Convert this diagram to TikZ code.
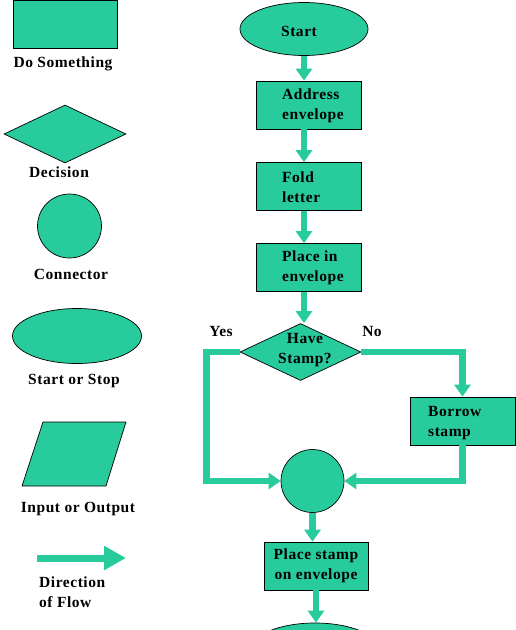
\documentclass[tikz,border=0pt]{standalone}
\usepackage{fontspec}
\setmainfont[LetterSpace=3.5]{Liberation Serif}
\usetikzlibrary{shapes.geometric,arrows.meta}
\definecolor{flowgreen}{RGB}{40,204,156}

\begin{document}
\begin{tikzpicture}[x=1pt,y=-1pt,
    every node/.style={font=\bfseries\fontsize{15.5}{20}\selectfont, inner sep=0pt},
    shp/.style={draw, fill=flowgreen, line width=0.7pt},
    box/.style={shp, rectangle, minimum width=105pt, minimum height=48pt},
    flow/.style={draw=flowgreen, line width=6.5pt, -{Triangle[width=16pt,length=12pt]}},
    txt/.style={align=left, anchor=west}]
    \useasboundingbox (0,0) rectangle (516,630);
    \clip (0,0) rectangle (516,630);
    % legend on the left
    \node[box, minimum width=104pt] (kbox) at (65,24) {};
    \node (kboxlbl) at (63,64) {Do Something};
    \node[shp, diamond, minimum width=122pt, minimum height=58pt] (kdec) at (65,134) {};
    \node (kdeclbl) at (59,172) {Decision};
    \node[shp, circle, minimum size=64pt] (kconn) at (69.5,226) {};
    \node (kconnlbl) at (71,274) {Connector};
    \node[shp, ellipse, minimum width=129pt, minimum height=55pt] (kterm) at (77,336) {};
    \node (ktermlbl) at (74,381) {Start or Stop};
    \draw[shp] (43,422) -- (126,422) -- (106,486) -- (22,486) -- cycle;
    \node (kiolbl) at (78,509) {Input or Output};
    \coordinate (karrow) at (37,558);
    \coordinate (karrowend) at (126,558);
    \draw[draw=flowgreen, line width=7pt, -{Triangle[width=23pt,length=22pt]}] (karrow) -- (karrowend);
    \node[txt] (kflowlbl) at (39,592) {Direction\\of Flow};
    % the flow chart
    \node[shp, ellipse, minimum width=128pt, minimum height=53pt] (start) at (304,29) {};
    \node (startlbl) at (299,31) {Start};
    \node[box] (addr) at (308.5,105) {};
    \node[txt] (addrlbl) at (282,106) {Address\\envelope};
    \node[box] (fold) at (308.5,186.5) {};
    \node[txt] (foldlbl) at (282,187) {Fold\\letter};
    \node[box] (insert) at (308.5,267.5) {};
    \node[txt] (insertlbl) at (282,268) {Place in\\envelope};
    \node[shp, diamond, minimum width=121pt, minimum height=57pt] (dec) at (300.5,352) {};
    \node[align=center] (declbl) at (305,350) {Have\\Stamp?};
    \node (yes) at (221,331) {Yes};
    \node (no) at (372,331) {No};
    \node[box] (borrow) at (462.5,421) {};
    \node[txt] (borrowlbl) at (428,423) {Borrow\\stamp};
    \node[shp, circle, minimum size=63pt] (conn) at (312.5,481) {};
    \node[box, minimum width=104pt, align=center] (affix) at (316,566) {Place stamp\\on envelope};
    \node[shp, ellipse, minimum width=128pt, minimum height=53pt] (stop) at (315,649.5) {};
    % straight down
    \draw[flow] (start.south) -- (start.south |- addr.north);
    \draw[flow] (start.south |- addr.south) -- (start.south |- fold.north);
    \draw[flow] (start.south |- fold.south) -- (start.south |- insert.north);
    \draw[flow] (start.south |- insert.south) -- (start.south |- dec.north);
    % yes branch
    \draw[flow] (dec.west) -- ++(-33,0) |- (conn.west);
    % no branch
    \draw[flow] (dec.east) -| (borrow.north);
    \draw[flow] (borrow.south) |- (conn.east);
    % on to the end
    \draw[flow] (conn.south) -- (conn.south |- affix.north);
    \draw[flow] (affix.south) -- (affix.south |- stop.north);
\end{tikzpicture}
\end{document}
